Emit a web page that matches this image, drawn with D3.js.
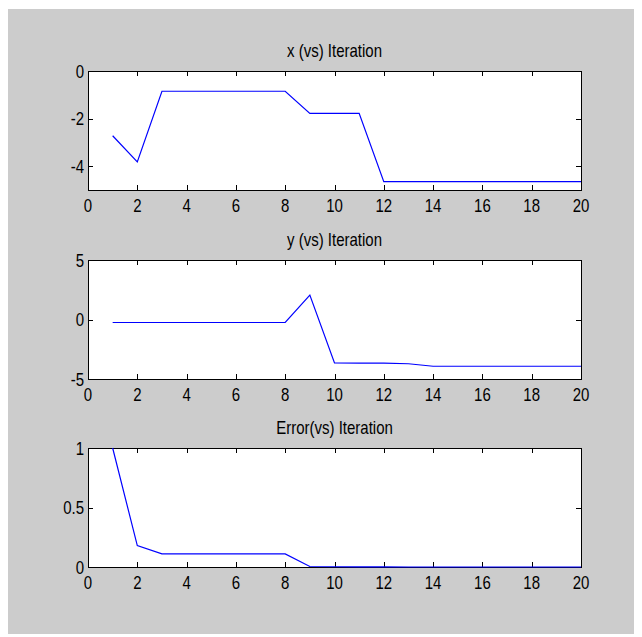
<!DOCTYPE html>
<html>
<head>
<meta charset="utf-8">
<script src="https://cdn.jsdelivr.net/npm/d3@7"></script>
<style>
  body { margin: 0; background: #ffffff; }
  text { font-family: "Liberation Sans", Arial, sans-serif; fill: #000; }
</style>
</head>
<body>
<figure id="chart" style="margin:0"></figure>
<script>
// data
const iterations = [1, 2, 3, 4, 5, 6, 7, 8, 9, 10, 11, 12, 13, 14, 15, 16, 17, 18, 19, 20];
const xValues = [-2.72, -3.82, -0.85, -0.85, -0.85, -0.85, -0.85, -0.85, -1.78, -1.78,
                 -1.78, -4.65, -4.65, -4.65, -4.65, -4.65, -4.65, -4.65, -4.65, -4.65];
const yValues = [-0.25, -0.25, -0.25, -0.25, -0.25, -0.25, -0.25, -0.25, 2.05, -3.65,
                 -3.66, -3.67, -3.72, -3.93, -3.93, -3.93, -3.93, -3.93, -3.93, -3.93];
const errValues = [1, 0.18, 0.11, 0.11, 0.11, 0.11, 0.11, 0.11, 0.004, 0.002,
                   0.001, 0.001, 0, 0, 0, 0, 0, 0, 0, 0];
const xTicks = [0, 2, 4, 6, 8, 10, 12, 14, 16, 18, 20];

const panels = [
  { title: "x (vs) Iteration", values: xValues, domain: [-5, 0], ticks: [-4, -2, 0], top: 71 },
  { title: "y (vs) Iteration", values: yValues, domain: [-5, 5], ticks: [-5, 0, 5], top: 260 },
  { title: "Error(vs) Iteration", values: errValues, domain: [0, 1], ticks: [0, 0.5, 1], top: 448 }
];

const W = 642, H = 637;
const left = 88, right = 581, ph = 119;
const tickLen = 5;
const stretch = 1.25;

const svg = d3.select("figure#chart")
  .append("svg")
  .attr("width", W)
  .attr("height", H);

// grey figure background
svg.append("rect")
  .attr("x", 8).attr("y", 9)
  .attr("width", 626).attr("height", 625)
  .attr("fill", "#cccccc");

const x = d3.scaleLinear().domain([0, 20]).range([left, right]);

function label(g, tx, ty, str, anchor) {
  g.append("text")
    .attr("transform", "translate(" + tx + "," + ty + ") scale(1," + stretch + ")")
    .attr("text-anchor", anchor)
    .style("font-size", "15px")
    .text(str);
}

panels.forEach(p => {
  const bottom = p.top + ph;
  const y = d3.scaleLinear().domain(p.domain).range([bottom, p.top]);
  const g = svg.append("g");

  g.append("rect")
    .attr("x", left).attr("y", p.top)
    .attr("width", right - left).attr("height", ph)
    .attr("fill", "#ffffff");

  // ticks pointing inwards on all four sides
  xTicks.forEach(t => {
    const px = Math.round(x(t)) + 0.5;
    g.append("line").attr("x1", px).attr("x2", px)
      .attr("y1", bottom).attr("y2", bottom - tickLen).attr("stroke", "#000");
    g.append("line").attr("x1", px).attr("x2", px)
      .attr("y1", p.top).attr("y2", p.top + tickLen).attr("stroke", "#000");
    label(g, x(t), bottom + 22, t, "middle");
  });
  p.ticks.forEach(t => {
    const py = Math.round(y(t)) + 0.5;
    g.append("line").attr("x1", left).attr("x2", left + tickLen)
      .attr("y1", py).attr("y2", py).attr("stroke", "#000");
    g.append("line").attr("x1", right).attr("x2", right - tickLen)
      .attr("y1", py).attr("y2", py).attr("stroke", "#000");
    label(g, left - 4, y(t) + 6.5, t, "end");
  });

  g.append("rect")
    .attr("x", left + 0.5).attr("y", p.top + 0.5)
    .attr("width", right - left).attr("height", ph)
    .attr("fill", "none")
    .attr("stroke", "#000");

  const line = d3.line()
    .x((d, i) => x(iterations[i]))
    .y(d => y(d));

  g.append("path")
    .datum(p.values)
    .attr("d", line)
    .attr("fill", "none")
    .attr("stroke", "#0000ff")
    .attr("stroke-width", 1.2);

  label(g, (left + right) / 2, p.top - 14, p.title, "middle");
});
</script>
</body>
</html>
